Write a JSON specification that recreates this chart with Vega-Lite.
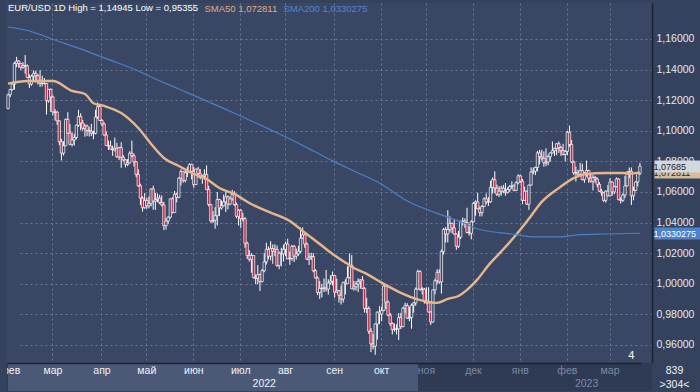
{
"$schema":"https://vega.github.io/schema/vega-lite/v6.json",
"background":"#35425d",
"padding":{"left":3,"top":2,"right":6,"bottom":2},
"spacing":0,
"config":{"font":"Liberation Sans","view":{"stroke":null},"concat":{"spacing":0}},
"datasets":{
"px":[
{"d":"2022-01-31","o":1.1146,"h":1.1243,"l":1.114,"c":1.1235},
{"d":"2022-02-01","o":1.1235,"h":1.1273,"l":1.122,"c":1.127},
{"d":"2022-02-02","o":1.127,"h":1.132,"l":1.1262,"c":1.1305},
{"d":"2022-02-03","o":1.1305,"h":1.145,"l":1.1269,"c":1.144},
{"d":"2022-02-04","o":1.144,"h":1.1483,"l":1.1416,"c":1.1455},
{"d":"2022-02-07","o":1.1455,"h":1.1462,"l":1.1411,"c":1.144},
{"d":"2022-02-08","o":1.144,"h":1.1443,"l":1.1397,"c":1.1415},
{"d":"2022-02-09","o":1.1415,"h":1.1448,"l":1.1405,"c":1.1425},
{"d":"2022-02-10","o":1.1425,"h":1.14945,"l":1.1373,"c":1.1424},
{"d":"2022-02-11","o":1.1424,"h":1.1434,"l":1.135,"c":1.1348},
{"d":"2022-02-14","o":1.1348,"h":1.1368,"l":1.128,"c":1.1305},
{"d":"2022-02-15","o":1.1305,"h":1.1367,"l":1.1294,"c":1.1357},
{"d":"2022-02-16","o":1.1357,"h":1.1394,"l":1.1332,"c":1.1375},
{"d":"2022-02-17","o":1.1375,"h":1.1391,"l":1.1314,"c":1.136},
{"d":"2022-02-18","o":1.136,"h":1.137,"l":1.1302,"c":1.132},
{"d":"2022-02-21","o":1.132,"h":1.1395,"l":1.1286,"c":1.1309},
{"d":"2022-02-22","o":1.1309,"h":1.136,"l":1.129,"c":1.1308},
{"d":"2022-02-23","o":1.1308,"h":1.1345,"l":1.1303,"c":1.1309},
{"d":"2022-02-24","o":1.1309,"h":1.1312,"l":1.1106,"c":1.1196},
{"d":"2022-02-25","o":1.1196,"h":1.1274,"l":1.1184,"c":1.127},
{"d":"2022-02-28","o":1.127,"h":1.1277,"l":1.1123,"c":1.1221},
{"d":"2022-03-01","o":1.1221,"h":1.123,"l":1.11,"c":1.1123},
{"d":"2022-03-02","o":1.1123,"h":1.1142,"l":1.1067,"c":1.1121},
{"d":"2022-03-03","o":1.1121,"h":1.113,"l":1.1038,"c":1.1065},
{"d":"2022-03-04","o":1.1065,"h":1.1068,"l":1.0906,"c":1.0928},
{"d":"2022-03-07","o":1.0928,"h":1.0947,"l":1.0806,"c":1.0854},
{"d":"2022-03-08","o":1.0854,"h":1.0932,"l":1.0838,"c":1.0902},
{"d":"2022-03-09","o":1.0902,"h":1.108,"l":1.09,"c":1.1074},
{"d":"2022-03-10","o":1.1074,"h":1.1121,"l":1.098,"c":1.0984},
{"d":"2022-03-11","o":1.0984,"h":1.1043,"l":1.0905,"c":1.0911},
{"d":"2022-03-14","o":1.0911,"h":1.099,"l":1.0897,"c":1.094},
{"d":"2022-03-15","o":1.094,"h":1.098,"l":1.0903,"c":1.0956},
{"d":"2022-03-16","o":1.0956,"h":1.104,"l":1.0943,"c":1.1036},
{"d":"2022-03-17","o":1.1036,"h":1.1137,"l":1.1026,"c":1.1093},
{"d":"2022-03-18","o":1.1093,"h":1.1114,"l":1.1003,"c":1.105},
{"d":"2022-03-21","o":1.105,"h":1.107,"l":1.1,"c":1.1016},
{"d":"2022-03-22","o":1.1016,"h":1.1045,"l":1.0961,"c":1.1031},
{"d":"2022-03-23","o":1.1031,"h":1.104,"l":1.0965,"c":1.1002},
{"d":"2022-03-24","o":1.1002,"h":1.1025,"l":1.0962,"c":1.0997},
{"d":"2022-03-25","o":1.0997,"h":1.1045,"l":1.0965,"c":1.0984},
{"d":"2022-03-28","o":1.0984,"h":1.1,"l":1.0945,"c":1.0983},
{"d":"2022-03-29","o":1.0983,"h":1.1137,"l":1.0976,"c":1.109},
{"d":"2022-03-30","o":1.109,"h":1.1185,"l":1.1077,"c":1.1158},
{"d":"2022-03-31","o":1.1158,"h":1.1172,"l":1.1064,"c":1.1067},
{"d":"2022-04-01","o":1.1067,"h":1.1076,"l":1.1028,"c":1.1045},
{"d":"2022-04-04","o":1.1045,"h":1.1055,"l":1.0968,"c":1.0972},
{"d":"2022-04-05","o":1.0972,"h":1.0995,"l":1.0902,"c":1.0903},
{"d":"2022-04-06","o":1.0903,"h":1.0936,"l":1.0874,"c":1.09},
{"d":"2022-04-07","o":1.09,"h":1.0935,"l":1.0878,"c":1.088},
{"d":"2022-04-08","o":1.088,"h":1.0903,"l":1.0836,"c":1.0875},
{"d":"2022-04-11","o":1.0875,"h":1.0955,"l":1.0865,"c":1.0885},
{"d":"2022-04-12","o":1.0885,"h":1.0921,"l":1.0823,"c":1.0829},
{"d":"2022-04-13","o":1.0829,"h":1.0895,"l":1.0808,"c":1.089},
{"d":"2022-04-14","o":1.089,"h":1.0925,"l":1.0758,"c":1.0826},
{"d":"2022-04-15","o":1.0826,"h":1.0841,"l":1.08,"c":1.081},
{"d":"2022-04-18","o":1.081,"h":1.0814,"l":1.076,"c":1.078},
{"d":"2022-04-19","o":1.078,"h":1.0815,"l":1.0769,"c":1.079},
{"d":"2022-04-20","o":1.079,"h":1.0866,"l":1.0787,"c":1.0853},
{"d":"2022-04-21","o":1.0853,"h":1.0936,"l":1.0826,"c":1.0836},
{"d":"2022-04-22","o":1.0836,"h":1.0851,"l":1.0766,"c":1.0797},
{"d":"2022-04-25","o":1.0797,"h":1.0799,"l":1.0697,"c":1.0715},
{"d":"2022-04-26","o":1.0715,"h":1.0748,"l":1.0634,"c":1.064},
{"d":"2022-04-27","o":1.064,"h":1.0654,"l":1.0515,"c":1.056},
{"d":"2022-04-28","o":1.056,"h":1.0572,"l":1.0471,"c":1.0497},
{"d":"2022-04-29","o":1.0497,"h":1.0593,"l":1.049,"c":1.0545},
{"d":"2022-05-02","o":1.0545,"h":1.0564,"l":1.049,"c":1.051},
{"d":"2022-05-03","o":1.051,"h":1.0571,"l":1.0493,"c":1.0525},
{"d":"2022-05-04","o":1.0525,"h":1.0622,"l":1.0505,"c":1.062},
{"d":"2022-05-05","o":1.062,"h":1.0641,"l":1.0484,"c":1.054},
{"d":"2022-05-06","o":1.054,"h":1.0593,"l":1.0483,"c":1.055},
{"d":"2022-05-09","o":1.055,"h":1.059,"l":1.0533,"c":1.056},
{"d":"2022-05-10","o":1.056,"h":1.0581,"l":1.052,"c":1.053},
{"d":"2022-05-11","o":1.053,"h":1.0577,"l":1.0506,"c":1.0515},
{"d":"2022-05-12","o":1.0515,"h":1.0535,"l":1.035,"c":1.038},
{"d":"2022-05-13","o":1.038,"h":1.043,"l":1.0354,"c":1.041},
{"d":"2022-05-16","o":1.041,"h":1.0441,"l":1.0389,"c":1.0435},
{"d":"2022-05-17","o":1.0435,"h":1.0557,"l":1.0425,"c":1.0555},
{"d":"2022-05-18","o":1.0555,"h":1.0565,"l":1.046,"c":1.0465},
{"d":"2022-05-19","o":1.0465,"h":1.0606,"l":1.0463,"c":1.0585},
{"d":"2022-05-20","o":1.0585,"h":1.0594,"l":1.0532,"c":1.0565},
{"d":"2022-05-23","o":1.0565,"h":1.0697,"l":1.0559,"c":1.069},
{"d":"2022-05-24","o":1.069,"h":1.0748,"l":1.0642,"c":1.0733},
{"d":"2022-05-25","o":1.0733,"h":1.0736,"l":1.066,"c":1.0676},
{"d":"2022-05-26","o":1.0676,"h":1.0737,"l":1.0662,"c":1.0725},
{"d":"2022-05-27","o":1.0725,"h":1.0765,"l":1.0698,"c":1.0733},
{"d":"2022-05-30","o":1.0733,"h":1.0787,"l":1.0726,"c":1.078},
{"d":"2022-05-31","o":1.078,"h":1.0785,"l":1.0682,"c":1.0735},
{"d":"2022-06-01","o":1.0735,"h":1.0765,"l":1.0627,"c":1.0648},
{"d":"2022-06-02","o":1.0648,"h":1.0752,"l":1.0647,"c":1.075},
{"d":"2022-06-03","o":1.075,"h":1.0764,"l":1.0693,"c":1.072},
{"d":"2022-06-06","o":1.072,"h":1.075,"l":1.0683,"c":1.0695},
{"d":"2022-06-07","o":1.0695,"h":1.071,"l":1.0653,"c":1.0705},
{"d":"2022-06-08","o":1.0705,"h":1.0748,"l":1.068,"c":1.0715},
{"d":"2022-06-09","o":1.0715,"h":1.0773,"l":1.0612,"c":1.0615},
{"d":"2022-06-10","o":1.0615,"h":1.064,"l":1.0505,"c":1.0518},
{"d":"2022-06-13","o":1.0518,"h":1.052,"l":1.0398,"c":1.041},
{"d":"2022-06-14","o":1.041,"h":1.0475,"l":1.0397,"c":1.0415},
{"d":"2022-06-15","o":1.0415,"h":1.05,"l":1.036,"c":1.0445},
{"d":"2022-06-16","o":1.0445,"h":1.06,"l":1.0381,"c":1.055},
{"d":"2022-06-17","o":1.055,"h":1.0555,"l":1.0442,"c":1.0495},
{"d":"2022-06-20","o":1.0495,"h":1.0545,"l":1.0484,"c":1.051},
{"d":"2022-06-21","o":1.051,"h":1.0582,"l":1.0505,"c":1.0535},
{"d":"2022-06-22","o":1.0535,"h":1.0605,"l":1.0469,"c":1.0568},
{"d":"2022-06-23","o":1.0568,"h":1.0577,"l":1.0486,"c":1.052},
{"d":"2022-06-24","o":1.052,"h":1.057,"l":1.0513,"c":1.0555},
{"d":"2022-06-27","o":1.0555,"h":1.0614,"l":1.0543,"c":1.0583},
{"d":"2022-06-28","o":1.0583,"h":1.0605,"l":1.0508,"c":1.0518},
{"d":"2022-06-29","o":1.0518,"h":1.053,"l":1.0428,"c":1.0441},
{"d":"2022-06-30","o":1.0441,"h":1.0488,"l":1.038,"c":1.048},
{"d":"2022-07-01","o":1.048,"h":1.0487,"l":1.0365,"c":1.0425},
{"d":"2022-07-04","o":1.0425,"h":1.0463,"l":1.0407,"c":1.0425},
{"d":"2022-07-05","o":1.0425,"h":1.0436,"l":1.0235,"c":1.0265},
{"d":"2022-07-06","o":1.0265,"h":1.0275,"l":1.0162,"c":1.0185},
{"d":"2022-07-07","o":1.0185,"h":1.022,"l":1.0145,"c":1.016},
{"d":"2022-07-08","o":1.016,"h":1.02,"l":1.0072,"c":1.0185},
{"d":"2022-07-11","o":1.0185,"h":1.0188,"l":1.0036,"c":1.004},
{"d":"2022-07-12","o":1.004,"h":1.0061,"l":0.9998,"c":1.0035},
{"d":"2022-07-13","o":1.0035,"h":1.0122,"l":0.9998,"c":1.006},
{"d":"2022-07-14","o":1.006,"h":1.0067,"l":0.9952,"c":1.0015},
{"d":"2022-07-15","o":1.0015,"h":1.0097,"l":1.0008,"c":1.0085},
{"d":"2022-07-18","o":1.0085,"h":1.02,"l":1.0075,"c":1.0143},
{"d":"2022-07-19","o":1.0143,"h":1.0268,"l":1.0125,"c":1.0225},
{"d":"2022-07-20","o":1.0225,"h":1.0244,"l":1.016,"c":1.018},
{"d":"2022-07-21","o":1.018,"h":1.0278,"l":1.0153,"c":1.023},
{"d":"2022-07-22","o":1.023,"h":1.0257,"l":1.0131,"c":1.0213},
{"d":"2022-07-25","o":1.0213,"h":1.0258,"l":1.018,"c":1.0225},
{"d":"2022-07-26","o":1.0225,"h":1.025,"l":1.011,"c":1.012},
{"d":"2022-07-27","o":1.012,"h":1.021,"l":1.0095,"c":1.02},
{"d":"2022-07-28","o":1.02,"h":1.0235,"l":1.0113,"c":1.0195},
{"d":"2022-07-29","o":1.0195,"h":1.0255,"l":1.0145,"c":1.0225},
{"d":"2022-08-01","o":1.0225,"h":1.0275,"l":1.018,"c":1.026},
{"d":"2022-08-02","o":1.026,"h":1.0294,"l":1.0161,"c":1.0163},
{"d":"2022-08-03","o":1.0163,"h":1.021,"l":1.0124,"c":1.0165},
{"d":"2022-08-04","o":1.0165,"h":1.0254,"l":1.015,"c":1.0245},
{"d":"2022-08-05","o":1.0245,"h":1.0253,"l":1.0142,"c":1.018},
{"d":"2022-08-08","o":1.018,"h":1.023,"l":1.0158,"c":1.0195},
{"d":"2022-08-09","o":1.0195,"h":1.0248,"l":1.0182,"c":1.0212},
{"d":"2022-08-10","o":1.0212,"h":1.0368,"l":1.0202,"c":1.0298},
{"d":"2022-08-11","o":1.0298,"h":1.0368,"l":1.0292,"c":1.032},
{"d":"2022-08-12","o":1.032,"h":1.0329,"l":1.0235,"c":1.026},
{"d":"2022-08-15","o":1.026,"h":1.027,"l":1.0155,"c":1.016},
{"d":"2022-08-16","o":1.016,"h":1.0201,"l":1.0123,"c":1.017},
{"d":"2022-08-17","o":1.017,"h":1.0202,"l":1.0155,"c":1.0178},
{"d":"2022-08-18","o":1.0178,"h":1.02,"l":1.0075,"c":1.0085},
{"d":"2022-08-19","o":1.0085,"h":1.0095,"l":1.0034,"c":1.0038},
{"d":"2022-08-22","o":1.0038,"h":1.0048,"l":0.9926,"c":0.9943},
{"d":"2022-08-23","o":0.9943,"h":1.0018,"l":0.9901,"c":0.997},
{"d":"2022-08-24","o":0.997,"h":0.9999,"l":0.9911,"c":0.997},
{"d":"2022-08-25","o":0.997,"h":1.0034,"l":0.9946,"c":0.9973},
{"d":"2022-08-26","o":0.9973,"h":1.009,"l":0.9948,"c":0.9965},
{"d":"2022-08-29","o":0.9965,"h":1.003,"l":0.9929,"c":1.0005},
{"d":"2022-08-30","o":1.0005,"h":1.0055,"l":0.9995,"c":1.0017},
{"d":"2022-08-31","o":1.0017,"h":1.008,"l":0.9989,"c":1.0054},
{"d":"2022-09-01","o":1.0054,"h":1.0057,"l":0.991,"c":0.9945},
{"d":"2022-09-02","o":0.9945,"h":1.0033,"l":0.9942,"c":0.9955},
{"d":"2022-09-05","o":0.9955,"h":0.996,"l":0.9877,"c":0.9925},
{"d":"2022-09-06","o":0.9925,"h":0.9988,"l":0.9864,"c":0.99},
{"d":"2022-09-07","o":0.99,"h":1.0012,"l":0.9877,"c":1.001},
{"d":"2022-09-08","o":1.001,"h":1.0029,"l":0.993,"c":1.0},
{"d":"2022-09-09","o":1.0,"h":1.0114,"l":0.9998,"c":1.004},
{"d":"2022-09-12","o":1.004,"h":1.0198,"l":1.0035,"c":1.012},
{"d":"2022-09-13","o":1.012,"h":1.0187,"l":0.9965,"c":0.9967},
{"d":"2022-09-14","o":0.9967,"h":1.0019,"l":0.9955,"c":0.998},
{"d":"2022-09-15","o":0.998,"h":1.0017,"l":0.9956,"c":0.9998},
{"d":"2022-09-16","o":0.9998,"h":1.0036,"l":0.9945,"c":1.0015},
{"d":"2022-09-19","o":1.0015,"h":1.003,"l":0.9967,"c":1.0025},
{"d":"2022-09-20","o":1.0025,"h":1.005,"l":0.9966,"c":0.997},
{"d":"2022-09-21","o":0.997,"h":0.9977,"l":0.9812,"c":0.9838},
{"d":"2022-09-22","o":0.9838,"h":0.9908,"l":0.9808,"c":0.9838},
{"d":"2022-09-23","o":0.9838,"h":0.9852,"l":0.9671,"c":0.969},
{"d":"2022-09-26","o":0.969,"h":0.971,"l":0.9553,"c":0.9607},
{"d":"2022-09-27","o":0.9607,"h":0.9671,"l":0.9571,"c":0.9592},
{"d":"2022-09-28","o":0.9592,"h":0.974,"l":0.95355,"c":0.9737},
{"d":"2022-09-29","o":0.9737,"h":0.9818,"l":0.9635,"c":0.9815},
{"d":"2022-09-30","o":0.9815,"h":0.9854,"l":0.9736,"c":0.9802},
{"d":"2022-10-03","o":0.9802,"h":0.985,"l":0.9755,"c":0.9825},
{"d":"2022-10-04","o":0.9825,"h":0.9999,"l":0.982,"c":0.9985},
{"d":"2022-10-05","o":0.9985,"h":0.9991,"l":0.9835,"c":0.988},
{"d":"2022-10-06","o":0.988,"h":0.989,"l":0.9788,"c":0.9795},
{"d":"2022-10-07","o":0.9795,"h":0.981,"l":0.9725,"c":0.974},
{"d":"2022-10-10","o":0.974,"h":0.9748,"l":0.9669,"c":0.97},
{"d":"2022-10-11","o":0.97,"h":0.974,"l":0.9687,"c":0.9705},
{"d":"2022-10-12","o":0.9705,"h":0.9735,"l":0.9668,"c":0.9705},
{"d":"2022-10-13","o":0.9705,"h":0.9808,"l":0.9632,"c":0.978},
{"d":"2022-10-14","o":0.978,"h":0.9809,"l":0.9704,"c":0.972},
{"d":"2022-10-17","o":0.972,"h":0.9848,"l":0.9715,"c":0.984},
{"d":"2022-10-18","o":0.984,"h":0.9876,"l":0.9807,"c":0.9857},
{"d":"2022-10-19","o":0.9857,"h":0.9873,"l":0.977,"c":0.9775},
{"d":"2022-10-20","o":0.9775,"h":0.985,"l":0.9755,"c":0.978},
{"d":"2022-10-21","o":0.978,"h":0.987,"l":0.9706,"c":0.986},
{"d":"2022-10-24","o":0.986,"h":0.988,"l":0.9811,"c":0.9875},
{"d":"2022-10-25","o":0.9875,"h":0.9976,"l":0.9856,"c":0.9965},
{"d":"2022-10-26","o":0.9965,"h":1.0093,"l":0.9961,"c":1.008},
{"d":"2022-10-27","o":1.008,"h":1.0088,"l":0.9952,"c":0.9965},
{"d":"2022-10-28","o":0.9965,"h":0.9978,"l":0.993,"c":0.9965},
{"d":"2022-10-31","o":0.9965,"h":0.9973,"l":0.987,"c":0.9885},
{"d":"2022-11-01","o":0.9885,"h":0.9977,"l":0.987,"c":0.9875},
{"d":"2022-11-02","o":0.9875,"h":0.9977,"l":0.9812,"c":0.9815},
{"d":"2022-11-03","o":0.9815,"h":0.982,"l":0.973,"c":0.975},
{"d":"2022-11-04","o":0.975,"h":0.9962,"l":0.9745,"c":0.996},
{"d":"2022-11-07","o":0.996,"h":1.0033,"l":0.993,"c":1.002},
{"d":"2022-11-08","o":1.002,"h":1.0095,"l":0.9996,"c":1.0075},
{"d":"2022-11-09","o":1.0075,"h":1.0094,"l":1.0,"c":1.0012},
{"d":"2022-11-10","o":1.0012,"h":1.0224,"l":0.9935,"c":1.021},
{"d":"2022-11-11","o":1.021,"h":1.0365,"l":1.019,"c":1.0355},
{"d":"2022-11-14","o":1.0355,"h":1.037,"l":1.027,"c":1.0325},
{"d":"2022-11-15","o":1.0325,"h":1.0481,"l":1.027,"c":1.0355},
{"d":"2022-11-16","o":1.0355,"h":1.044,"l":1.0335,"c":1.0395},
{"d":"2022-11-17","o":1.0395,"h":1.04,"l":1.033,"c":1.0365},
{"d":"2022-11-18","o":1.0365,"h":1.042,"l":1.0321,"c":1.0325},
{"d":"2022-11-21","o":1.0325,"h":1.033,"l":1.0222,"c":1.0245},
{"d":"2022-11-22","o":1.0245,"h":1.0345,"l":1.0233,"c":1.0305},
{"d":"2022-11-23","o":1.0305,"h":1.0413,"l":1.0292,"c":1.0405},
{"d":"2022-11-24","o":1.0405,"h":1.0433,"l":1.0381,"c":1.041},
{"d":"2022-11-25","o":1.041,"h":1.0427,"l":1.0365,"c":1.04},
{"d":"2022-11-28","o":1.04,"h":1.0497,"l":1.033,"c":1.0335},
{"d":"2022-11-29","o":1.0335,"h":1.039,"l":1.0315,"c":1.033},
{"d":"2022-11-30","o":1.033,"h":1.0415,"l":1.029,"c":1.0405},
{"d":"2022-12-01","o":1.0405,"h":1.0535,"l":1.04,"c":1.0525},
{"d":"2022-12-02","o":1.0525,"h":1.0545,"l":1.0445,"c":1.0535},
{"d":"2022-12-05","o":1.0535,"h":1.0595,"l":1.0485,"c":1.049},
{"d":"2022-12-06","o":1.049,"h":1.0505,"l":1.044,"c":1.0465},
{"d":"2022-12-07","o":1.0465,"h":1.0515,"l":1.044,"c":1.0505},
{"d":"2022-12-08","o":1.0505,"h":1.0565,"l":1.05,"c":1.0555},
{"d":"2022-12-09","o":1.0555,"h":1.059,"l":1.052,"c":1.0535},
{"d":"2022-12-12","o":1.0535,"h":1.0567,"l":1.0508,"c":1.0535},
{"d":"2022-12-13","o":1.0535,"h":1.0673,"l":1.053,"c":1.063},
{"d":"2022-12-14","o":1.063,"h":1.0695,"l":1.059,"c":1.068},
{"d":"2022-12-15","o":1.068,"h":1.0735,"l":1.0592,"c":1.0625},
{"d":"2022-12-16","o":1.0625,"h":1.0648,"l":1.0573,"c":1.0585},
{"d":"2022-12-19","o":1.0585,"h":1.0638,"l":1.0567,"c":1.0605},
{"d":"2022-12-20","o":1.0605,"h":1.064,"l":1.0575,"c":1.0625},
{"d":"2022-12-21","o":1.0625,"h":1.0646,"l":1.0591,"c":1.0605},
{"d":"2022-12-22","o":1.0605,"h":1.0658,"l":1.0575,"c":1.0595},
{"d":"2022-12-23","o":1.0595,"h":1.063,"l":1.059,"c":1.0615},
{"d":"2022-12-26","o":1.0615,"h":1.0645,"l":1.06,"c":1.0635},
{"d":"2022-12-27","o":1.0635,"h":1.067,"l":1.062,"c":1.064},
{"d":"2022-12-28","o":1.064,"h":1.065,"l":1.0605,"c":1.061},
{"d":"2022-12-29","o":1.061,"h":1.067,"l":1.0605,"c":1.066},
{"d":"2022-12-30","o":1.066,"h":1.0715,"l":1.065,"c":1.0705},
{"d":"2023-01-02","o":1.0705,"h":1.071,"l":1.066,"c":1.067},
{"d":"2023-01-03","o":1.067,"h":1.0685,"l":1.052,"c":1.0545},
{"d":"2023-01-04","o":1.0545,"h":1.0635,"l":1.0542,"c":1.0605},
{"d":"2023-01-05","o":1.0605,"h":1.061,"l":1.0515,"c":1.052},
{"d":"2023-01-06","o":1.052,"h":1.0648,"l":1.0483,"c":1.0645},
{"d":"2023-01-09","o":1.0645,"h":1.076,"l":1.064,"c":1.073},
{"d":"2023-01-10","o":1.073,"h":1.076,"l":1.0715,"c":1.0735},
{"d":"2023-01-11","o":1.0735,"h":1.0765,"l":1.071,"c":1.076},
{"d":"2023-01-12","o":1.076,"h":1.0868,"l":1.0735,"c":1.0855},
{"d":"2023-01-13","o":1.0855,"h":1.0875,"l":1.078,"c":1.083},
{"d":"2023-01-16","o":1.083,"h":1.0875,"l":1.0805,"c":1.082},
{"d":"2023-01-17","o":1.082,"h":1.0865,"l":1.0765,"c":1.079},
{"d":"2023-01-18","o":1.079,"h":1.0885,"l":1.0768,"c":1.0795},
{"d":"2023-01-19","o":1.0795,"h":1.0845,"l":1.0775,"c":1.083},
{"d":"2023-01-20","o":1.083,"h":1.086,"l":1.08,"c":1.0855},
{"d":"2023-01-23","o":1.0855,"h":1.093,"l":1.085,"c":1.087},
{"d":"2023-01-24","o":1.087,"h":1.089,"l":1.0835,"c":1.0885},
{"d":"2023-01-25","o":1.0885,"h":1.092,"l":1.084,"c":1.0915},
{"d":"2023-01-26","o":1.0915,"h":1.093,"l":1.0855,"c":1.089},
{"d":"2023-01-27","o":1.089,"h":1.09,"l":1.0835,"c":1.087},
{"d":"2023-01-30","o":1.087,"h":1.0915,"l":1.084,"c":1.0845},
{"d":"2023-01-31","o":1.0845,"h":1.0875,"l":1.08,"c":1.0865},
{"d":"2023-02-01","o":1.0865,"h":1.1,"l":1.084,"c":1.099},
{"d":"2023-02-02","o":1.099,"h":1.1033,"l":1.0895,"c":1.091},
{"d":"2023-02-03","o":1.091,"h":1.094,"l":1.079,"c":1.0795},
{"d":"2023-02-06","o":1.0795,"h":1.0805,"l":1.071,"c":1.0725},
{"d":"2023-02-07","o":1.0725,"h":1.0765,"l":1.0668,"c":1.0725},
{"d":"2023-02-08","o":1.0725,"h":1.0745,"l":1.07,"c":1.0715},
{"d":"2023-02-09","o":1.0715,"h":1.079,"l":1.0705,"c":1.074},
{"d":"2023-02-10","o":1.074,"h":1.0785,"l":1.0675,"c":1.068},
{"d":"2023-02-13","o":1.068,"h":1.073,"l":1.066,"c":1.0725},
{"d":"2023-02-14","o":1.0725,"h":1.0805,"l":1.07,"c":1.074},
{"d":"2023-02-15","o":1.074,"h":1.0745,"l":1.066,"c":1.069},
{"d":"2023-02-16","o":1.069,"h":1.0715,"l":1.066,"c":1.067},
{"d":"2023-02-17","o":1.067,"h":1.071,"l":1.061,"c":1.0695},
{"d":"2023-02-20","o":1.0695,"h":1.0705,"l":1.066,"c":1.0685},
{"d":"2023-02-21","o":1.0685,"h":1.0695,"l":1.063,"c":1.065},
{"d":"2023-02-22","o":1.065,"h":1.0665,"l":1.06,"c":1.0605},
{"d":"2023-02-23","o":1.0605,"h":1.062,"l":1.0575,"c":1.0595},
{"d":"2023-02-24","o":1.0595,"h":1.06,"l":1.0535,"c":1.0545},
{"d":"2023-02-27","o":1.0545,"h":1.061,"l":1.053,"c":1.0605},
{"d":"2023-02-28","o":1.0605,"h":1.0645,"l":1.057,"c":1.0575},
{"d":"2023-03-01","o":1.0575,"h":1.069,"l":1.057,"c":1.0665},
{"d":"2023-03-02","o":1.0665,"h":1.067,"l":1.0575,"c":1.06},
{"d":"2023-03-03","o":1.06,"h":1.064,"l":1.0585,"c":1.0635},
{"d":"2023-03-06","o":1.0635,"h":1.0695,"l":1.063,"c":1.0685},
{"d":"2023-03-07","o":1.0685,"h":1.069,"l":1.0545,"c":1.055},
{"d":"2023-03-08","o":1.055,"h":1.0565,"l":1.0525,"c":1.0545},
{"d":"2023-03-09","o":1.0545,"h":1.059,"l":1.0535,"c":1.058},
{"d":"2023-03-10","o":1.058,"h":1.0705,"l":1.056,"c":1.064},
{"d":"2023-03-13","o":1.064,"h":1.0735,"l":1.0635,"c":1.073},
{"d":"2023-03-14","o":1.073,"h":1.076,"l":1.069,"c":1.0735},
{"d":"2023-03-15","o":1.0735,"h":1.076,"l":1.0515,"c":1.0575},
{"d":"2023-03-16","o":1.0575,"h":1.0635,"l":1.0545,"c":1.061},
{"d":"2023-03-17","o":1.061,"h":1.067,"l":1.0605,"c":1.0665},
{"d":"2023-03-20","o":1.0665,"h":1.0725,"l":1.0635,"c":1.072},
{"d":"2023-03-21","o":1.072,"h":1.079,"l":1.071,"c":1.07685}
],
"sma":[
{"d":"2022-01-31","s":"SMA50","v":1.1308},{"d":"2022-02-11","s":"SMA50","v":1.1325},{"d":"2022-03-01","s":"SMA50","v":1.1325},{"d":"2022-03-14","s":"SMA50","v":1.126},{"d":"2022-03-22","s":"SMA50","v":1.124},{"d":"2022-03-28","s":"SMA50","v":1.118},{"d":"2022-04-04","s":"SMA50","v":1.1162},{"d":"2022-04-14","s":"SMA50","v":1.1116},{"d":"2022-04-26","s":"SMA50","v":1.1018},{"d":"2022-05-04","s":"SMA50","v":1.0914},{"d":"2022-05-12","s":"SMA50","v":1.0822},{"d":"2022-05-23","s":"SMA50","v":1.077},{"d":"2022-05-31","s":"SMA50","v":1.0724},{"d":"2022-06-09","s":"SMA50","v":1.0685},{"d":"2022-06-17","s":"SMA50","v":1.0626},{"d":"2022-06-28","s":"SMA50","v":1.0587},{"d":"2022-07-07","s":"SMA50","v":1.0528},{"d":"2022-07-19","s":"SMA50","v":1.0476},{"d":"2022-07-27","s":"SMA50","v":1.0443},{"d":"2022-08-03","s":"SMA50","v":1.041},{"d":"2022-08-11","s":"SMA50","v":1.0345},{"d":"2022-08-23","s":"SMA50","v":1.026},{"d":"2022-08-31","s":"SMA50","v":1.0195},{"d":"2022-09-09","s":"SMA50","v":1.013},{"d":"2022-09-14","s":"SMA50","v":1.0103},{"d":"2022-09-21","s":"SMA50","v":1.0071},{"d":"2022-10-04","s":"SMA50","v":0.9999},{"d":"2022-10-14","s":"SMA50","v":0.994},{"d":"2022-10-25","s":"SMA50","v":0.9901},{"d":"2022-11-02","s":"SMA50","v":0.9881},{"d":"2022-11-08","s":"SMA50","v":0.9875},{"d":"2022-11-15","s":"SMA50","v":0.9901},{"d":"2022-11-22","s":"SMA50","v":0.992},{"d":"2022-11-28","s":"SMA50","v":0.996},{"d":"2022-12-05","s":"SMA50","v":1.003},{"d":"2022-12-12","s":"SMA50","v":1.012},{"d":"2022-12-20","s":"SMA50","v":1.021},{"d":"2022-12-29","s":"SMA50","v":1.032},{"d":"2023-01-06","s":"SMA50","v":1.0425},{"d":"2023-01-16","s":"SMA50","v":1.0535},{"d":"2023-01-26","s":"SMA50","v":1.0625},{"d":"2023-02-06","s":"SMA50","v":1.069},{"d":"2023-02-13","s":"SMA50","v":1.0715},{"d":"2023-02-27","s":"SMA50","v":1.0724},{"d":"2023-03-09","s":"SMA50","v":1.0724},{"d":"2023-03-14","s":"SMA50","v":1.072},{"d":"2023-03-21","s":"SMA50","v":1.072811},
{"d":"2022-01-31","s":"SMA200","v":1.1678},{"d":"2022-02-14","s":"SMA200","v":1.1652},{"d":"2022-03-02","s":"SMA200","v":1.1593},{"d":"2022-03-18","s":"SMA200","v":1.1535},{"d":"2022-04-04","s":"SMA200","v":1.1476},{"d":"2022-04-26","s":"SMA200","v":1.1391},{"d":"2022-05-05","s":"SMA200","v":1.1345},{"d":"2022-05-23","s":"SMA200","v":1.1273},{"d":"2022-06-24","s":"SMA200","v":1.1127},{"d":"2022-07-22","s":"SMA200","v":1.0999},{"d":"2022-08-03","s":"SMA200","v":1.0946},{"d":"2022-08-18","s":"SMA200","v":1.0868},{"d":"2022-08-31","s":"SMA200","v":1.0803},{"d":"2022-09-14","s":"SMA200","v":1.0737},{"d":"2022-09-30","s":"SMA200","v":1.0659},{"d":"2022-10-19","s":"SMA200","v":1.0541},{"d":"2022-11-07","s":"SMA200","v":1.0465},{"d":"2022-11-14","s":"SMA200","v":1.044},{"d":"2022-11-24","s":"SMA200","v":1.04},{"d":"2022-12-05","s":"SMA200","v":1.0358},{"d":"2022-12-27","s":"SMA200","v":1.0325},{"d":"2023-01-10","s":"SMA200","v":1.0306},{"d":"2023-01-26","s":"SMA200","v":1.0306},{"d":"2023-02-08","s":"SMA200","v":1.0319},{"d":"2023-02-27","s":"SMA200","v":1.0325},{"d":"2023-03-21","s":"SMA200","v":1.0330275}
],
"months":[
{"d":"2022-02-01","m":"фев"},{"d":"2022-03-01","m":"мар"},{"d":"2022-04-01","m":"апр"},{"d":"2022-05-02","m":"май"},{"d":"2022-06-01","m":"июн"},{"d":"2022-07-01","m":"июл"},{"d":"2022-08-01","m":"авг"},{"d":"2022-09-01","m":"сен"},{"d":"2022-10-03","m":"окт"},{"d":"2022-11-01","m":"ноя"},{"d":"2022-12-01","m":"дек"},{"d":"2023-01-02","m":"янв"},{"d":"2023-02-01","m":"фев"},{"d":"2023-03-01","m":"мар"}
],
"years":[{"d":"2022-07-18","y":"2022"},{"d":"2023-02-14","y":"2023"}]
},
"resolve":{"scale":{"x":"shared","y":"independent"}},
"vconcat":[
{"width":645,"height":360,
"view":{"fill":"#3a4764","stroke":null},
"title":{"text":"EUR/USD 1D High = 1,14945 Low = 0,95355","anchor":"start","frame":"group","offset":-9,"fontSize":9.5,"fontWeight":"normal","color":"#ffffff","font":"Liberation Sans","dx":1},
"resolve":{"scale":{"y":"shared","x":"shared"},"axis":{"y":"independent"}},
"layer":[
{"data":{"name":"px"},"mark":{"type":"rule","color":"#ffffff","strokeWidth":1},
"encoding":{
"x":{"field":"d","type":"ordinal","scale":{"type":"band","paddingInner":0,"paddingOuter":0,"range":[0,634],"round":false},
"axis":{"values":["2022-03-01","2022-04-01","2022-05-02","2022-06-01","2022-07-01","2022-08-01","2022-09-01","2022-10-03","2022-11-01","2022-12-01","2023-01-02","2023-02-01","2023-03-01"],"grid":true,"gridColor":"#6b7895","gridDash":[2,3],"gridWidth":1,"labels":false,"ticks":false,"domain":false,"title":null}},
"y":{"field":"l","type":"quantitative","scale":{"domain":[0.9482,1.1835],"nice":false,"zero":false},
"axis":{"orient":"right","values":[0.96,0.98,1.0,1.02,1.04,1.06,1.08,1.1,1.12,1.14,1.16],"grid":true,"gridColor":"#6b7895","gridDash":[2,3],"labels":true,"labelExpr":"replace(format(datum.value, '.5f'), '.', ',')","labelPadding":4,"labelColor":"#e4e7ed","labelFontSize":10.5,"labelFont":"Liberation Sans","labelOverlap":false,"labelFlush":false,"labelBound":false,"ticks":false,"domain":true,"domainColor":"#1b2233","domainWidth":1.5,"title":null,"minExtent":0}},
"y2":{"field":"h"}}},
{"data":{"name":"px"},"mark":{"type":"bar","width":2.4,"stroke":"#ffffff","strokeWidth":0.7},
"encoding":{
"x":{"field":"d","type":"ordinal"},
"y":{"field":"o","type":"quantitative","axis":null},
"y2":{"field":"c"},
"color":{"condition":{"test":"datum.c < datum.o","value":"#c4294a"},"value":"#3a4764"}}},
{"data":{"name":"sma"},"mark":{"type":"line","interpolate":"monotone"},
"encoding":{
"x":{"field":"d","type":"ordinal"},
"y":{"field":"v","type":"quantitative","axis":null},
"color":{"field":"s","type":"nominal","scale":{"domain":["SMA50","SMA200"],"range":["#e6b78c","#4a80c8"]},"legend":null},
"strokeWidth":{"field":"s","type":"nominal","scale":{"domain":["SMA50","SMA200"],"range":[2.4,1.2]},"legend":null}}},
{"data":{"values":[{"t":"SMA50 1,072811"}]},"mark":{"type":"text","align":"left","baseline":"alphabetic","fontSize":9.5,"font":"Liberation Sans","color":"#dcae86"},
"encoding":{"x":{"datum":"2022-06-08","type":"ordinal"},"y":{"datum":1.1777,"type":"quantitative","axis":null},"text":{"field":"t"}}},
{"data":{"values":[{"t":"SMA200 1,0330275"}]},"mark":{"type":"text","align":"left","baseline":"alphabetic","fontSize":9.5,"font":"Liberation Sans","color":"#4f86d0"},
"encoding":{"x":{"datum":"2022-07-29","type":"ordinal"},"y":{"datum":1.1777,"type":"quantitative","axis":null},"text":{"field":"t"}}},
{"data":{"values":[{"t":"4"}]},"mark":{"type":"text","align":"center","baseline":"middle","fontSize":11,"font":"Liberation Sans","color":"#ffffff"},
"encoding":{"x":{"datum":"2023-03-15","type":"ordinal"},"y":{"datum":0.9525,"type":"quantitative","axis":null},"text":{"field":"t"}}},
{"data":{"values":[{"v":1.072811}]},"mark":{"type":"point","opacity":0},
"encoding":{"y":{"field":"v","type":"quantitative",
"axis":{"orient":"right","values":[1.072811],"offset":2,"zindex":1,"ticks":true,"tickSize":46,"tickWidth":12,"tickCap":"butt","tickColor":"#d6bc9a","labelPadding":-47,"labelAlign":"left","labelBaseline":"middle","labelExpr":"replace(format(datum.value, '.7~f'), '.', ',')","labelColor":"#2a2a30","labelFontSize":9,"labelFont":"Liberation Sans","labelOverlap":false,"labelBound":false,"domain":false,"grid":false,"title":null,"minExtent":0}}}},
{"data":{"values":[{"v":1.07685},{"v":1.0330275}]},"mark":{"type":"point","opacity":0},
"encoding":{"y":{"field":"v","type":"quantitative",
"axis":{"orient":"right","values":[1.07685,1.0330275],"offset":2,"zindex":1,"ticks":true,"tickSize":46,"tickWidth":12,"tickCap":"butt","tickColor":{"condition":{"test":"datum.value < 1.05","value":"#4d82cc"},"value":"#d3d7de"},"labelPadding":-47,"labelAlign":"left","labelBaseline":"middle","labelExpr":"replace(format(datum.value, '.7~f'), '.', ',')","labelColor":{"condition":{"test":"datum.value < 1.05","value":"#ffffff"},"value":"#1e2230"},"labelFontSize":9,"labelFont":"Liberation Sans","labelOverlap":false,"labelBound":false,"domain":false,"grid":false,"title":null,"minExtent":0}}}}
]},
{"width":645,"height":28,
"view":{"fill":"#2f3a55","stroke":null},
"layer":[
{"data":{"values":[{"s":"2022-01-31","e":"2022-10-26"}]},"mark":{"type":"rect","color":"#4b5977"},
"encoding":{"x":{"field":"s","type":"ordinal","axis":{"orient":"top","labels":false,"ticks":false,"grid":false,"domain":true,"domainColor":"#1b2233","domainWidth":1.5,"title":null}},"x2":{"field":"e"}}},
{"data":{"name":"months"},"mark":{"type":"text","fontSize":10.5,"font":"Liberation Sans","dy":-6,"clip":true},
"encoding":{"x":{"field":"d","type":"ordinal"},"text":{"field":"m"},
"color":{"condition":{"test":"datum.d < '2022-10-26'","value":"#f0f2f5"},"value":"#7b89a6"}}},
{"data":{"name":"years"},"mark":{"type":"text","fontSize":10.5,"font":"Liberation Sans","dy":7},
"encoding":{"x":{"field":"d","type":"ordinal"},"text":{"field":"y"},
"color":{"condition":{"test":"datum.y == '2022'","value":"#f0f2f5"},"value":"#7b89a6"}}},
{"data":{"values":[{"r":"839"},{"r":">304<"}]},"mark":{"type":"point","opacity":0},
"encoding":{"y":{"field":"r","type":"ordinal","sort":null,
"axis":{"orient":"right","labelAlign":"center","labelPadding":22,"labelBaseline":"middle","ticks":false,"domain":false,"grid":false,"title":null,"labelColor":"#f0f2f5","labelFontSize":10.5,"labelFont":"Liberation Sans","minExtent":0}}}}
]}
]
}
